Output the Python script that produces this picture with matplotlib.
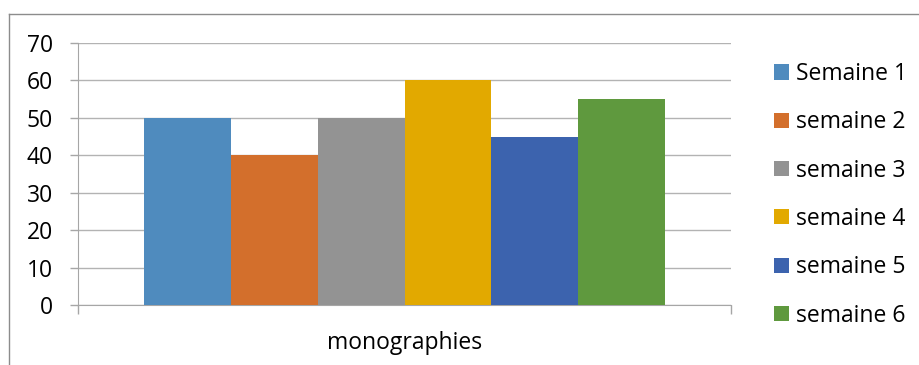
import matplotlib
matplotlib.use("Agg")
import matplotlib.pyplot as plt
from matplotlib.lines import Line2D

# weekly counts for the single category
category = "monographies"
series_labels = ["Semaine 1", "semaine 2", "semaine 3", "semaine 4", "semaine 5", "semaine 6"]
series_values = [50, 40, 50, 60, 45, 55]
series_colors = ["#4F8BBE", "#D36F2C", "#939393", "#E2A900", "#3C63AE", "#5F993E"]
y_ticks = [0, 10, 20, 30, 40, 50, 60, 70]

plt.rcParams['font.family'] = ['Open Sans', 'DejaVu Sans']
fs = 16.5

fig = plt.figure(figsize=(9.2, 3.65), dpi=100)
ax = fig.add_axes([0.0848, 0.1644, 0.7098, 0.7178])

n = len(series_values)
bar_w = 0.798 / n
start = -0.399 + bar_w / 2
for i, (lab, val, col) in enumerate(zip(series_labels, series_values, series_colors)):
    ax.bar(start + i * bar_w, val, width=bar_w, color=col, label=lab, zorder=3)

ax.set_xlim(-0.5, 0.5)
ax.set_ylim(0, 70)

ax.set_yticks(y_ticks)
ax.tick_params(axis='y', length=6, width=1, color='#A6A6A6', pad=12, labelsize=fs)
ax.grid(axis='y', color='#B3B3B3', linewidth=1, zorder=0)

# category label in the middle, boundary ticks at both ends
ax.set_xticks([0])
ax.set_xticklabels([category])
ax.tick_params(axis='x', which='major', length=0, pad=19, labelsize=fs)
ax.set_xticks([-0.5, 0.5], minor=True)
ax.tick_params(axis='x', which='minor', length=6.5, width=1, color='#A6A6A6')

for s in ['top', 'right']:
    ax.spines[s].set_visible(False)
ax.spines['left'].set_color('#A6A6A6')
ax.spines['bottom'].set_color('#A6A6A6')

leg = ax.legend(loc='upper left', bbox_to_anchor=(0.8315, 0.855), bbox_transform=fig.transFigure,
                frameon=False, fontsize=fs, handlelength=0.64, handleheight=0.64,
                handletextpad=0.3, labelspacing=1.06, borderaxespad=0)

# chart area border (left and top edges)
fig.add_artist(Line2D([9.5 / 920, 9.5 / 920], [0, 1 - 14 / 365], transform=fig.transFigure,
                      color='#8C8C8C', linewidth=1))
fig.add_artist(Line2D([9.5 / 920, 1], [1 - 14 / 365, 1 - 14 / 365], transform=fig.transFigure,
                      color='#8C8C8C', linewidth=1))

fig.savefig("out.png", dpi=100)
